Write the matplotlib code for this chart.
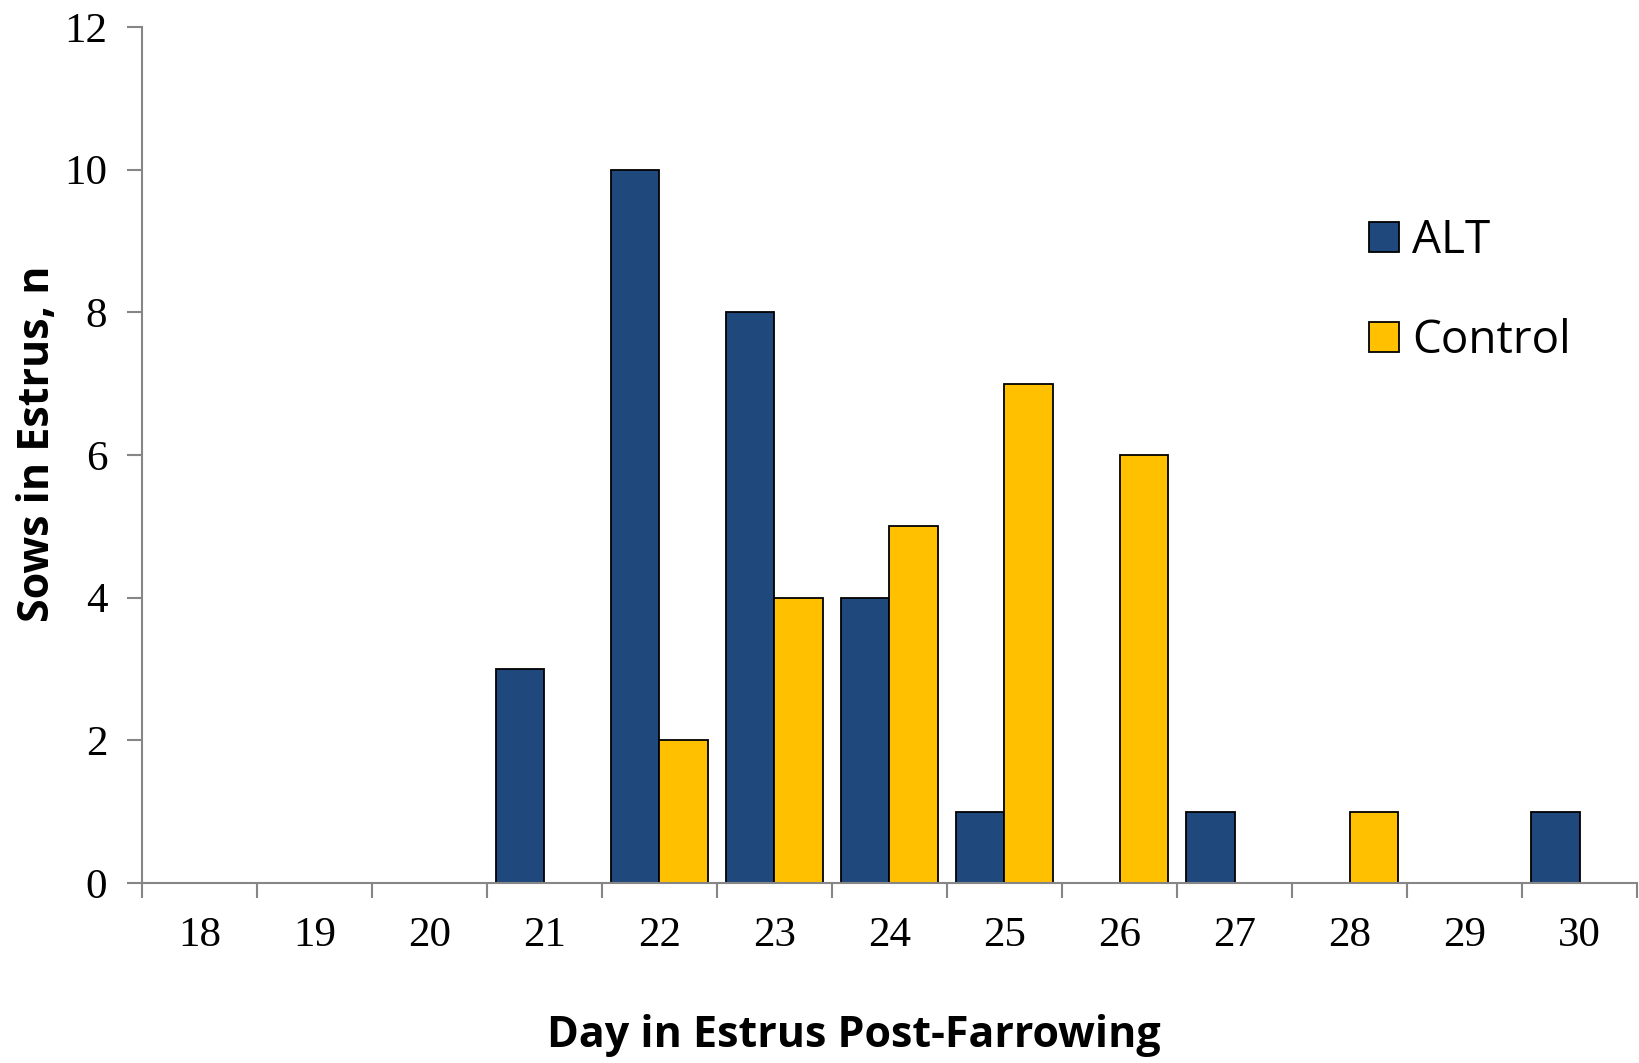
import matplotlib
matplotlib.use("Agg")
import matplotlib.pyplot as plt
import numpy as np
from matplotlib.patches import Patch

days = [18, 19, 20, 21, 22, 23, 24, 25, 26, 27, 28, 29, 30]
alt = [0, 0, 0, 3, 10, 8, 4, 1, 0, 1, 0, 0, 1]
control = [0, 0, 0, 0, 2, 4, 5, 7, 6, 0, 1, 0, 0]
series_names = ["ALT", "Control"]
colors = ["#1F497D", "#FFC000"]

fig = plt.figure(figsize=(16.39, 10.63), dpi=100)
ax = fig.add_axes([0.0866, 0.1693, 0.9122, 0.8053])

x = np.arange(len(days))
w = 0.42
ax.bar(x - w / 2, alt, width=w, color=colors[0], edgecolor="black", linewidth=1.3, zorder=2)
ax.bar(x + w / 2, control, width=w, color=colors[1], edgecolor="black", linewidth=1.3, zorder=2)

ax.set_xlim(-0.5, len(days) - 0.5)
ax.set_ylim(0, 12)
ax.set_yticks(range(0, 13, 2))
ax.set_xticks(x)
ax.set_xticklabels([str(d) for d in days], fontfamily="Liberation Serif", fontsize=31)
ax.set_xticks(np.arange(-0.5, len(days)), minor=True)
ax.tick_params(axis="x", which="major", length=0, pad=24)
ax.tick_params(axis="x", which="minor", length=11, width=1.5, color="#868686", direction="out")
ax.tick_params(axis="y", length=11, width=1.5, color="#868686", direction="out", pad=14)
for lab in ax.get_yticklabels():
    lab.set_fontfamily("Liberation Serif")
    lab.set_fontsize(31)

for s in ["top", "right"]:
    ax.spines[s].set_visible(False)
for s in ["left", "bottom"]:
    ax.spines[s].set_color("#868686")
    ax.spines[s].set_linewidth(1.5)

ax.set_xlabel("Day in Estrus Post-Farrowing", fontfamily="Open Sans", fontweight="bold", fontsize=31)
ax.set_ylabel("Sows in Estrus, n", fontfamily="Open Sans", fontweight="bold", fontsize=31)
ax.xaxis.set_label_coords(0.476, -0.178)
ax.yaxis.set_label_coords(-0.070, 0.513)
ax.xaxis.label.set_va("center")
ax.yaxis.label.set_va("center")

handles = [Patch(facecolor=colors[i], edgecolor="black", linewidth=1.3, label=series_names[i]) for i in range(2)]
leg = ax.legend(handles=handles, loc="upper left", bbox_to_anchor=(0.821, 0.777), frameon=False,
                prop={"family": "Open Sans", "size": 33}, handlelength=0.64, handleheight=0.64,
                handletextpad=0.3, labelspacing=1.18, borderpad=0, borderaxespad=0)

fig.savefig("out.png", dpi=100, facecolor="white")
